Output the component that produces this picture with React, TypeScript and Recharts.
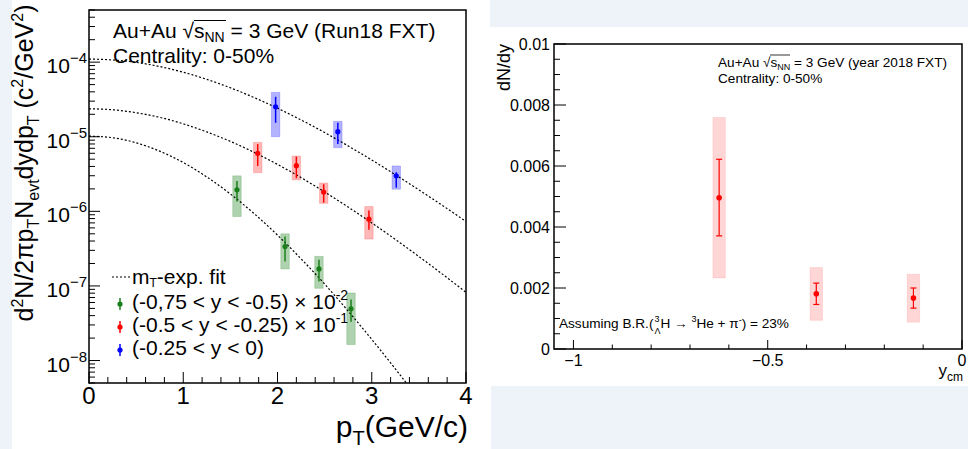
import React from 'react';
import { ComposedChart, Line, Scatter, ErrorBar, XAxis, YAxis, ReferenceArea } from 'recharts';

const FONT = '"Liberation Sans", Arial, Helvetica, sans-serif';
const BG = '#eef3fa';

// ---- left panel: pT spectra (log y) ----
const SPEC_MIN = 5e-9;
const SPEC_MAX = 5e-4;

const FIT_PT = [0, 0.25, 0.5, 0.75, 1, 1.25, 1.5, 1.75, 2, 2.25, 2.5, 2.75, 3, 3.25, 3.5, 3.75, 4];
const FIT_BLUE = [1.1e-4, 1.07e-4, 9.93e-5, 8.73e-5, 7.33e-5, 5.88e-5, 4.53e-5, 3.36e-5, 2.41e-5, 1.68e-5, 1.14e-5, 7.53e-6, 4.88e-6, 3.1e-6, 1.94e-6, 1.2e-6, 7.31e-7];
const FIT_RED = [2.37e-5, 2.3e-5, 2.1e-5, 1.82e-5, 1.49e-5, 1.16e-5, 8.67e-6, 6.19e-6, 4.26e-6, 2.83e-6, 1.82e-6, 1.14e-6, 7.0e-7, 4.21e-7, 2.48e-7, 1.44e-7, 8.2e-8];
const FIT_GREEN = [1.02e-5, 9.71e-6, 8.3e-6, 6.41e-6, 4.51e-6, 2.89e-6, 1.71e-6, 9.37e-7, 4.8e-7, 2.31e-7, 1.06e-7, 4.6e-8, 1.92e-8, 7.74e-9, 3.01e-9];

const BLUE_PT = [1.98, 2.64, 3.26];
const BLUE_Y = [2.52e-5, 1.17e-5, 3.0e-6];
const BLUE_STAT_LO = [1.54e-5, 7.97e-6, 2.08e-6];
const BLUE_STAT_HI = [3.43e-5, 1.54e-5, 3.34e-6];
const BLUE_SYS_LO = [1.0e-5, 7.13e-6, 1.98e-6];
const BLUE_SYS_HI = [3.93e-5, 1.61e-5, 4.06e-6];

const RED_PT = [1.79, 2.2, 2.49, 2.97];
const RED_Y = [6.0e-6, 4.09e-6, 1.81e-6, 7.85e-7];
const RED_STAT_LO = [4.06e-6, 2.78e-6, 1.31e-6, 5.66e-7];
const RED_STAT_HI = [7.97e-6, 5.41e-6, 2.31e-6, 1.03e-6];
const RED_SYS_LO = [3.3e-6, 2.64e-6, 1.28e-6, 4.25e-7];
const RED_SYS_HI = [8.41e-6, 5.52e-6, 2.4e-6, 1.16e-6];

const GREEN_PT = [1.57, 2.08, 2.44, 2.78];
const GREEN_Y = [1.94e-6, 3.38e-7, 1.69e-7, 4.93e-8];
const GREEN_STAT_LO = [1.35e-6, 2.13e-7, 1.15e-7, 3.3e-8];
const GREEN_STAT_HI = [2.56e-6, 4.6e-7, 2.25e-7, 6.56e-8];
const GREEN_SYS_LO = [8.53e-7, 1.69e-7, 9.3e-8, 1.64e-8];
const GREEN_SYS_HI = [2.99e-6, 5.0e-7, 2.49e-7, 8.05e-8];

// ---- right panel: dN/dy vs rapidity ----
const YCM = [-0.625, -0.375, -0.125];
const DNDY = [0.00496, 0.00181, 0.00167];
const DNDY_STAT_LO = [0.00371, 0.00146, 0.00134];
const DNDY_STAT_HI = [0.00622, 0.00216, 0.002];
const DNDY_SYS_LO = [0.00233, 0.00094, 0.00088];
const DNDY_SYS_HI = [0.00759, 0.00267, 0.00245];

const PT_TICKS = Array.from({ length: 21 }, (_, i) => Math.round(i * 2) / 10);
const LOG_TICKS: number[] = [];
for (let e = -9; e <= -4; e++) {
  for (let m = 1; m <= 9; m++) {
    const v = m * Math.pow(10, e);
    if (v >= SPEC_MIN * 0.999 && v <= SPEC_MAX * 1.001) LOG_TICKS.push(v);
  }
}
const YCM_TICKS = Array.from({ length: 11 }, (_, i) => Math.round((-1 + i * 0.1) * 10) / 10);
const DNDY_TICKS = Array.from({ length: 21 }, (_, i) => Math.round(i * 5) / 10000);

const BLUE = '#0000ff';
const RED = '#ff0000';
const GREEN = '#1a7f1a';
const SYS_HALF_PT = 0.045;
const SYS_HALF_Y = 0.016;

type Pt = { x: number; y: number; err: [number, number]; lo: number; hi: number };

function makePoints(xs: number[], ys: number[], sLo: number[], sHi: number[], bLo: number[], bHi: number[]): Pt[] {
  return xs.map((x, i) => ({ x, y: ys[i], err: [ys[i] - sLo[i], sHi[i] - ys[i]], lo: bLo[i], hi: bHi[i] }));
}

function makeCurve(xs: number[], ys: number[]) {
  return ys.map((y, i) => ({ x: xs[i], y }));
}

const bluePts = makePoints(BLUE_PT, BLUE_Y, BLUE_STAT_LO, BLUE_STAT_HI, BLUE_SYS_LO, BLUE_SYS_HI);
const redPts = makePoints(RED_PT, RED_Y, RED_STAT_LO, RED_STAT_HI, RED_SYS_LO, RED_SYS_HI);
const greenPts = makePoints(GREEN_PT, GREEN_Y, GREEN_STAT_LO, GREEN_STAT_HI, GREEN_SYS_LO, GREEN_SYS_HI);
const dndyPts = makePoints(YCM, DNDY, DNDY_STAT_LO, DNDY_STAT_HI, DNDY_SYS_LO, DNDY_SYS_HI);

const PtTick = ({ x, y, payload }: any) => {
  const major = Number.isInteger(payload.value);
  return (
    <g>
      <line x1={x} y1={y} x2={x} y2={y - (major ? 11 : 6)} stroke="#000" strokeWidth={1} />
      {major && (
        <text x={x} y={y + 21} textAnchor="middle" fontSize={24} fontFamily={FONT} fill="#000">
          {payload.value}
        </text>
      )}
    </g>
  );
};

const LogTick = ({ x, y, payload }: any) => {
  const lg = Math.log10(payload.value);
  const e = Math.round(lg);
  const major = Math.abs(lg - e) < 1e-6;
  return (
    <g>
      <line x1={x} y1={y} x2={x + (major ? 11 : 6)} y2={y} stroke="#000" strokeWidth={1} />
      {major && (
        <text x={x - 2} y={y + 11} textAnchor="end" fontSize={21} fontFamily={FONT} fill="#000">
          10
          <tspan dy={-10} fontSize={15}>{`\u2212${-e}`}</tspan>
        </text>
      )}
    </g>
  );
};

const YcmTick = ({ x, y, payload }: any) => {
  const v = payload.value;
  const major = Math.abs(v * 2 - Math.round(v * 2)) < 1e-9;
  const label = v < 0 ? `\u2212${Math.abs(v)}` : `${v}`;
  return (
    <g>
      <line x1={x} y1={y} x2={x} y2={y - (major ? 9 : 4.5)} stroke="#000" strokeWidth={1} />
      {major && (
        <text x={x} y={y + 17} textAnchor="middle" fontSize={16} fontFamily={FONT} fill="#000">
          {label}
        </text>
      )}
    </g>
  );
};

const DndyTick = ({ x, y, payload }: any) => {
  const v = payload.value;
  const major = Math.round(v * 10000) % 20 === 0;
  return (
    <g>
      <line x1={x} y1={y} x2={x + (major ? 12 : 6)} y2={y} stroke="#000" strokeWidth={1} />
      {major && (
        <text x={x - 4} y={y + 5.5} textAnchor="end" fontSize={16} fontFamily={FONT} fill="#000">
          {v === 0 ? '0' : String(Number(v.toFixed(4)))}
        </text>
      )}
    </g>
  );
};

const dot = (color: string, r: number) => (p: any) => <circle cx={p.cx} cy={p.cy} r={r} fill={color} />;

function sysBoxes(pts: Pt[], half: number, color: string, op: number, key: string) {
  return pts.map((p, i) => (
    <ReferenceArea
      key={`${key}${i}`}
      x1={p.x - half}
      x2={p.x + half}
      y1={p.lo}
      y2={p.hi}
      fill={color}
      fillOpacity={op}
      stroke={color}
      strokeOpacity={op * 0.6}
      ifOverflow="visible"
    />
  ));
}

function SpectraChart() {
  return (
    <ComposedChart width={480} height={449} margin={{ top: 10, right: 14, bottom: 0, left: 0 }}>
      <XAxis
        dataKey="x"
        type="number"
        domain={[0, 4]}
        allowDataOverflow
        ticks={PT_TICKS}
        interval={0}
        tickSize={0}
        tickMargin={0}
        tick={(p: any) => <PtTick {...p} />}
        axisLine={false}
        height={66}
      />
      <YAxis
        type="number"
        scale="log"
        domain={[SPEC_MIN, SPEC_MAX]}
        allowDataOverflow
        ticks={LOG_TICKS}
        interval={0}
        tickSize={0}
        tickMargin={0}
        tick={(p: any) => <LogTick {...p} />}
        axisLine={false}
        width={89}
      />
      {sysBoxes(bluePts, SYS_HALF_PT, BLUE, 0.3, 'b')}
      {sysBoxes(redPts, SYS_HALF_PT, RED, 0.28, 'r')}
      {sysBoxes(greenPts, SYS_HALF_PT, GREEN, 0.35, 'g')}
      <Line data={makeCurve(FIT_PT, FIT_BLUE)} dataKey="y" type="monotone" stroke="#000" strokeWidth={1.2} strokeDasharray="2 2" dot={false} activeDot={false} isAnimationActive={false} />
      <Line data={makeCurve(FIT_PT, FIT_RED)} dataKey="y" type="monotone" stroke="#000" strokeWidth={1.2} strokeDasharray="2 2" dot={false} activeDot={false} isAnimationActive={false} />
      <Line data={makeCurve(FIT_PT, FIT_GREEN)} dataKey="y" type="monotone" stroke="#000" strokeWidth={1.2} strokeDasharray="2 2" dot={false} activeDot={false} isAnimationActive={false} />
      <Scatter data={bluePts} dataKey="y" shape={dot(BLUE, 2.6)} isAnimationActive={false}>
        <ErrorBar dataKey="err" direction="y" width={0} stroke={BLUE} strokeWidth={1.5} />
      </Scatter>
      <Scatter data={redPts} dataKey="y" shape={dot(RED, 2.6)} isAnimationActive={false}>
        <ErrorBar dataKey="err" direction="y" width={0} stroke={RED} strokeWidth={1.5} />
      </Scatter>
      <Scatter data={greenPts} dataKey="y" shape={dot(GREEN, 2.6)} isAnimationActive={false}>
        <ErrorBar dataKey="err" direction="y" width={0} stroke={GREEN} strokeWidth={1.5} />
      </Scatter>
      <ReferenceArea x1={0} x2={4} y1={SPEC_MIN} y2={SPEC_MAX} fill="none" stroke="#000" strokeWidth={1.5} ifOverflow="visible" />
    </ComposedChart>
  );
}

function YieldChart() {
  return (
    <ComposedChart width={488} height={449} margin={{ top: 44, right: 6, bottom: 0, left: 0 }}>
      <XAxis
        dataKey="x"
        type="number"
        domain={[-1.05, 0]}
        allowDataOverflow
        ticks={YCM_TICKS}
        interval={0}
        tickSize={0}
        tickMargin={0}
        tick={(p: any) => <YcmTick {...p} />}
        axisLine={false}
        height={100}
      />
      <YAxis
        type="number"
        domain={[0, 0.01]}
        allowDataOverflow
        ticks={DNDY_TICKS}
        interval={0}
        tickSize={0}
        tickMargin={0}
        tick={(p: any) => <DndyTick {...p} />}
        axisLine={false}
        width={74}
      />
      {sysBoxes(dndyPts, SYS_HALF_Y, RED, 0.16, 'd')}
      <Scatter data={dndyPts} dataKey="y" shape={dot(RED, 2.8)} isAnimationActive={false}>
        <ErrorBar dataKey="err" direction="y" width={3} stroke={RED} strokeWidth={1.2} />
      </Scatter>
      <ReferenceArea x1={-1.05} x2={0} y1={0} y2={0.01} fill="none" stroke="#000" strokeWidth={1.5} ifOverflow="visible" />
    </ComposedChart>
  );
}

function Overlay() {
  const legend = [
    { color: GREEN, y: 309, text: '(-0,75 < y < -0.5) \u00d7 10', sup: '-2' },
    { color: RED, y: 332, text: '(-0.5 < y < -0.25) \u00d7 10', sup: '-1' },
    { color: BLUE, y: 355, text: '(-0.25 < y < 0)', sup: '' },
  ];
  return (
    <svg width={968} height={449} style={{ position: 'absolute', left: 0, top: 0, pointerEvents: 'none' }} fontFamily={FONT} fill="#000">
      {/* left panel header */}
      <line x1={194} x2={226} y1={20.5} y2={20.5} stroke="#000" strokeWidth={1} />
      <text x={113} y={38} fontSize={21}>
        {'Au+Au \u221a'}s<tspan dy={4} fontSize={14}>NN</tspan>
        <tspan dy={-4}> = 3 GeV (Run18 FXT)</tspan>
      </text>
      <text x={113} y={63} fontSize={21}>Centrality: 0-50%</text>

      {/* left legend */}
      <line x1={112} x2={130} y1={277} y2={277} stroke="#000" strokeWidth={1.2} strokeDasharray="2 2" />
      <text x={132} y={284} fontSize={21}>
        m<tspan dy={3} fontSize={12}>T</tspan>
        <tspan dy={-3}>-exp. fit</tspan>
      </text>
      {legend.map((l) => (
        <g key={l.y}>
          <line x1={120} x2={120} y1={l.y - 11} y2={l.y + 1} stroke={l.color} strokeWidth={1.5} />
          <circle cx={120} cy={l.y - 5} r={2.6} fill={l.color} />
          <text x={132} y={l.y} fontSize={21}>
            {l.text}
            {l.sup && <tspan dy={-9} fontSize={14}>{l.sup}</tspan>}
          </text>
        </g>
      ))}

      {/* left axis titles */}
      <text x={33} y={163} fontSize={25} textAnchor="middle" transform="rotate(-90 33 163)">
        d<tspan dy={-10} fontSize={16}>2</tspan>
        <tspan dy={10}>N/2{'\u03c0'}p</tspan>
        <tspan dy={6} fontSize={16}>T</tspan>
        <tspan dy={-6}>N</tspan>
        <tspan dy={6} fontSize={16}>evt</tspan>
        <tspan dy={-6}>dydp</tspan>
        <tspan dy={6} fontSize={16}>T</tspan>
        <tspan dy={-6}> (c</tspan>
        <tspan dy={-10} fontSize={16}>2</tspan>
        <tspan dy={10}>/GeV</tspan>
        <tspan dy={-10} fontSize={16}>2</tspan>
        <tspan dy={10}>)</tspan>
      </text>
      <text x={468} y={437} fontSize={30} textAnchor="end">
        p<tspan dy={8} fontSize={20}>T</tspan>
        <tspan dy={-8}>(GeV/c)</tspan>
      </text>

      {/* right panel header */}
      <line x1={770} x2={790} y1={55} y2={55} stroke="#000" strokeWidth={0.8} />
      <text x={718} y={66.5} fontSize={13.6}>
        {'Au+Au \u221a'}s<tspan dy={3} fontSize={9}>NN</tspan>
        <tspan dy={-3}> = 3 GeV (year 2018 FXT)</tspan>
      </text>
      <text x={718} y={83} fontSize={13.6}>Centrality: 0-50%</text>

      {/* right note */}
      <text x={559} y={328} fontSize={13.6}>
        Assuming B.R.(
        <tspan dx={1} dy={-6} fontSize={9}>3</tspan>
        <tspan dx={-5} dy={12} fontSize={9}>{'\u039b'}</tspan>
        <tspan dy={-6}>{'H \u2192 '}</tspan>
        <tspan dy={-6} fontSize={9}>3</tspan>
        <tspan dy={6}>{'He + \u03c0'}</tspan>
        <tspan dy={-5} fontSize={9}>-</tspan>
        <tspan dy={5}>) = 23%</tspan>
      </text>

      {/* right axis titles */}
      <text x={510} y={44} fontSize={18} textAnchor="end" transform="rotate(-90 510 44)">dN/dy</text>
      <text x={963} y={376} fontSize={17} textAnchor="end">
        y<tspan dy={5} fontSize={12}>cm</tspan>
      </text>
    </svg>
  );
}

export default function App() {
  return (
    <div style={{ position: 'absolute', left: 0, top: 0, width: 968, height: 449, background: '#fff', overflow: 'hidden', fontFamily: FONT }}>
      <div style={{ position: 'absolute', left: 0, top: 0, width: 12, height: 449, background: BG }} />
      <div style={{ position: 'absolute', left: 490, top: 0, width: 478, height: 27, background: BG }} />
      <div style={{ position: 'absolute', left: 491, top: 386, width: 477, height: 63, background: BG }} />
      <div style={{ position: 'absolute', left: 0, top: 0 }}>
        <SpectraChart />
      </div>
      <div style={{ position: 'absolute', left: 480, top: 0 }}>
        <YieldChart />
      </div>
      <Overlay />
    </div>
  );
}
